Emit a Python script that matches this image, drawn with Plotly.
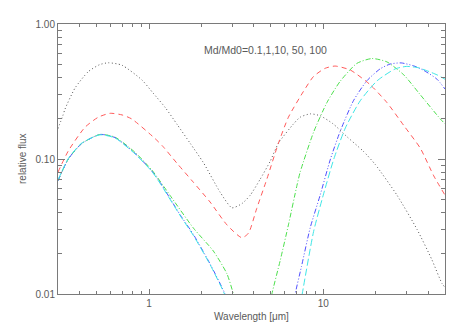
import plotly.graph_objects as go

# ---- data ----
black_x = [0.30, 0.32, 0.329, 0.376, 0.448, 0.52, 0.584, 0.697, 0.908, 1.05, 1.24, 1.45, 1.72, 2.05, 2.56, 2.99,
           3.41, 3.8, 4.34, 4.96, 5.53, 6.75, 7.37, 8.42, 9.6, 11.4, 13.7, 17.0, 19.9, 26.5, 34.6, 42.0, 48.0, 50.0]
black_y = [0.168, 0.21, 0.234, 0.336, 0.444, 0.50, 0.516, 0.496, 0.386, 0.31, 0.24, 0.18, 0.131, 0.094, 0.0567, 0.0435,
           0.0467, 0.0537, 0.0707, 0.0963, 0.131, 0.182, 0.204, 0.216, 0.209, 0.182, 0.146, 0.114, 0.091, 0.054, 0.030, 0.018, 0.012, 0.0112]

red_x = [0.30, 0.344, 0.429, 0.511, 0.597, 0.70, 0.795, 1.08, 1.2, 1.44, 1.80, 2.24, 2.8, 3.41, 3.72, 4.15, 4.74,
         5.53, 6.31, 7.7, 8.8, 10.26, 11.7, 14.3, 18.6, 23.2, 29.0, 36.1, 43.1, 50.0]
red_y = [0.08, 0.115, 0.172, 0.204, 0.218, 0.212, 0.198, 0.142, 0.124, 0.0936, 0.067, 0.048, 0.0325, 0.0261, 0.0282, 0.043, 0.0707,
         0.131, 0.204, 0.317, 0.409, 0.47, 0.488, 0.456, 0.355, 0.262, 0.177, 0.12, 0.075, 0.054]

green_x = [0.30, 0.344, 0.41, 0.523, 0.638, 0.831, 1.036, 1.1, 1.32, 1.80, 2.34, 2.8, 3.05, 3.3, None,
           4.8, 5.07, 5.66, 6.31, 7.06, 7.37, 8.8, 10.5, 12.5, 15.6, 19.05, 23.2, 29.0, 36.0, 47.0, 50.0]
green_y = [0.069, 0.10, 0.13, 0.152, 0.145, 0.112, 0.083, 0.075, 0.0537, 0.0307, 0.0208, 0.0141, 0.01, 0.007, None,
           0.007, 0.01, 0.0177, 0.0325, 0.0636, 0.08, 0.158, 0.262, 0.376, 0.511, 0.555, 0.524, 0.42, 0.30, 0.198, 0.182]

blue_x = [0.30, 0.344, 0.41, 0.523, 0.638, 0.831, 1.036, 1.157, 1.51, 1.80, 2.24, 2.73, 3.0, None,
          6.6, 6.9, 7.5, 8.42, 9.6, 11.0, 12.5, 14.9, 17.8, 21.2, 24.2, 28.0, 33.0, 37.6, 45.0, 50.0]
blue_y = [0.069, 0.10, 0.13, 0.152, 0.144, 0.110, 0.0815, 0.067, 0.0385, 0.0275, 0.0167, 0.01, 0.007, None,
          0.007, 0.01, 0.016, 0.031, 0.054, 0.10, 0.16, 0.27, 0.38, 0.465, 0.505, 0.515, 0.49, 0.455, 0.39, 0.33]

cyan_x = [0.30, 0.344, 0.41, 0.523, 0.638, 0.831, 1.036, 1.157, 1.51, 1.80, 2.24, 2.71, 3.0, None,
          7.2, 7.57, 8.8, 10.0, 11.5, 13.4, 16.3, 20.4, 25.9, 30.0, 35.0, 39.5, 45.0, 50.0]
cyan_y = [0.070, 0.101, 0.131, 0.151, 0.143, 0.109, 0.081, 0.066, 0.038, 0.027, 0.0165, 0.01, 0.007, None,
          0.007, 0.01, 0.029, 0.054, 0.100, 0.17, 0.27, 0.38, 0.465, 0.485, 0.475, 0.45, 0.42, 0.39]

x_major = [1, 10]
x_major_text = ["1", "10"]
x_minor = [0.4, 0.5, 0.6, 0.7, 0.8, 0.9, 2, 3, 4, 5, 6, 7, 8, 9, 20, 30, 40]
y_major = [0.01, 0.1, 1.0]
y_major_text = ["0.01", "0.10", "1.00"]
y_minor = [0.02, 0.03, 0.04, 0.05, 0.06, 0.07, 0.08, 0.09, 0.2, 0.3, 0.4, 0.5, 0.6, 0.7, 0.8, 0.9]

label_text = "Md/Md0=0.1,1,10, 50, 100"

series = [
    (black_x, black_y, "#555555", "1px,2.5px"),
    (red_x, red_y, "#ff5a5a", "5px,4px"),
    (green_x, green_y, "#4de04d", "5px,2px,1px,2px"),
    (blue_x, blue_y, "#5050ff", "5px,2px,1px,2px,1px,2px"),
    (cyan_x, cyan_y, "#3fe6e6", "7px,3px"),
]

fig = go.Figure()
for xs, ys, col, dash in series:
    fig.add_trace(go.Scatter(x=xs, y=ys, mode="lines", connectgaps=False,
                             line=dict(color=col, width=1, dash=dash, shape="spline", smoothing=0.6),
                             showlegend=False, hoverinfo="skip"))

axis_col = "#7a7a7a"
font_col = "#5a5a5a"
fnt = "Liberation Sans, Arial, sans-serif"

# the page body has an 8px margin, so the figure is sized/offset to compensate
fig.update_layout(
    width=455, height=323,
    margin=dict(l=50, r=18, t=10, b=37),
    paper_bgcolor="white", plot_bgcolor="white",
    font=dict(family=fnt, size=10, color=font_col),
    showlegend=False,
)
fig.update_xaxes(
    type="log", range=[0.4771 - 1, 1.699],
    tickvals=x_major, ticktext=x_major_text,
    ticks="inside", ticklen=5, tickwidth=1, tickcolor=axis_col,
    minor=dict(tickvals=x_minor, ticks="inside", ticklen=3, tickwidth=1, tickcolor=axis_col, showgrid=False),
    showline=True, linecolor=axis_col, linewidth=1, mirror="ticks",
    showgrid=False, zeroline=False, tickfont=dict(size=10, color=font_col),
)
fig.update_yaxes(
    type="log", range=[-2, 0],
    tickvals=y_major, ticktext=y_major_text,
    ticks="inside", ticklen=7, tickwidth=1, tickcolor=axis_col,
    minor=dict(tickvals=y_minor, ticks="inside", ticklen=4, tickwidth=1, tickcolor=axis_col, showgrid=False),
    showline=True, linecolor=axis_col, linewidth=1, mirror="ticks",
    showgrid=False, zeroline=False, tickfont=dict(size=10, color=font_col),
)

fig.add_annotation(text=label_text, xref="paper", yref="paper", x=(202 - 58) / 387, y=(294 - 45) / 276,
                   xanchor="left", yanchor="middle", showarrow=False, font=dict(size=10.5, color=font_col, family=fnt))
fig.add_annotation(text="relative flux", xref="paper", yref="paper", x=(22 - 58) / 387, y=0.5,
                   xanchor="center", yanchor="middle", textangle=-90, showarrow=False,
                   font=dict(size=10, color=font_col, family=fnt))
fig.add_annotation(text="Wavelength [μm]", xref="paper", yref="paper", x=0.5, y=(294 - 317) / 276,
                   xanchor="center", yanchor="middle", showarrow=False,
                   font=dict(size=10, color=font_col, family=fnt))

fig.write_html("out.html")
